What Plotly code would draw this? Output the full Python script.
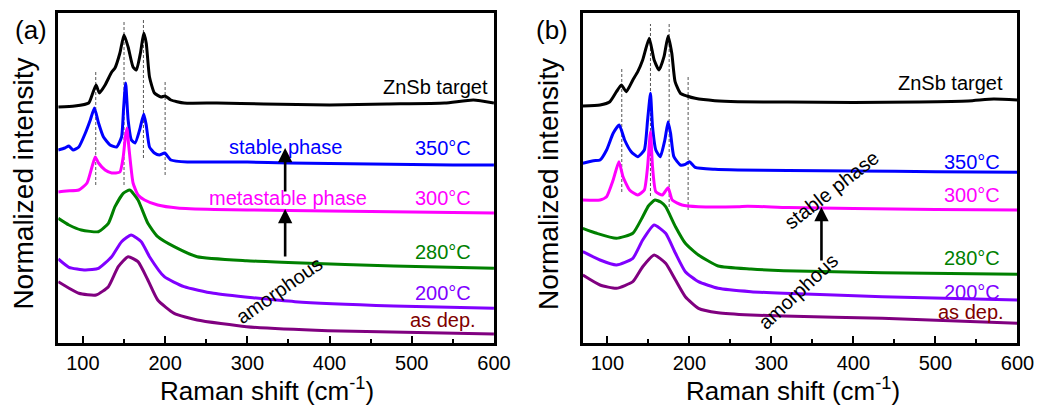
import plotly.graph_objects as go

FONT = "Liberation Sans, Arial, sans-serif"

# ---------------- Panel (a) spectra: Raman shift (cm^-1) vs stacked normalized intensity
a_target_x = [70, 90, 107, 112, 116, 120, 127, 135, 139, 145, 150, 155, 161, 165, 170, 174, 177, 181, 187, 195, 200, 207, 223, 263, 320, 400, 470, 540, 575, 600]
a_target_y = [236, 237, 240, 250, 258, 250, 258, 271, 275, 290, 308, 296, 276, 273, 290, 310, 300, 266, 250, 246, 247, 243, 240, 240, 239, 238, 239, 240, 243, 240]

a_350_x = [70, 78, 83, 88, 95, 103, 109, 114, 119, 125, 133, 141, 147, 149.5, 152, 155, 159, 163.5, 169, 174, 177, 181, 187, 193, 199.5, 207, 227, 263, 300, 350, 400, 450, 500, 550, 600]
a_350_y = [193, 195, 197, 193, 196, 210, 223, 235, 220, 206, 198, 196, 206, 235, 260, 223, 203, 200, 213, 229, 218, 196, 190, 188, 190, 183, 181, 181, 181, 180, 179.5, 179, 178.5, 178, 178]

a_300_x = [70, 80, 95, 105, 111, 115, 119, 127, 135, 145, 149, 151.5, 153.5, 156, 161, 167, 175, 191, 215, 260, 300, 400, 500, 600]
a_300_y = [151, 152, 153, 160, 176, 186, 180, 173, 170, 171, 186, 205, 215, 195, 160, 148, 143, 138, 135, 133.5, 133, 132, 131, 130]

a_280_x = [70, 83, 98, 119, 131, 139, 149, 157, 167, 179, 191, 211, 239, 299, 358, 478, 600]
a_280_y = [124.7, 118, 113, 111.3, 119.7, 136.3, 149.7, 153, 143, 119.7, 106.3, 96.3, 86.3, 82.3, 80.3, 77, 74.7]

a_200_x = [70, 83, 103, 119, 135, 147, 158.6, 171, 181, 199, 223, 259, 358, 478, 600]
a_200_y = [84, 75.7, 73, 74.7, 86.3, 101.3, 108, 101.3, 86.3, 66.3, 56.3, 49.7, 41.3, 37, 34.7]

a_dep_x = [70, 95, 116, 131, 143, 155, 167, 179, 191, 211, 239, 299, 398, 600]
a_dep_y = [61.3, 49.7, 48, 56.3, 76.3, 86.3, 81.3, 63, 43, 29.7, 23, 16.3, 12.3, 9]

# ---------------- Panel (b) spectra
b_target_x = [70, 91, 103, 111, 117, 123, 131, 137, 143, 151, 157, 163, 169, 174, 178.5, 182.5, 189, 197, 207, 231, 259, 320, 400, 480, 540, 571, 600]
b_target_y = [237, 238, 241.3, 251.3, 258, 251.3, 263, 271.3, 283, 304.7, 283, 273, 286.3, 307, 289.7, 261.3, 249.7, 247, 244.7, 242.3, 241.3, 241, 240.5, 241, 242, 244, 243]

b_350_x = [70, 83, 91, 99, 107, 114.4, 121, 129, 137, 145, 149, 152.5, 155, 159, 164.5, 170, 174, 177, 181, 189, 195, 200, 207, 231, 259, 320, 400, 500, 600]
b_350_y = [179.7, 182.3, 183, 193, 209.7, 218, 203, 191.3, 186.3, 193, 223, 249.7, 216.3, 193, 186.3, 203, 221.3, 209.7, 186.3, 178, 178.7, 181.3, 175.7, 173.7, 173, 172.5, 172, 171.3, 170.7]

b_300_x = [70, 91, 99, 107, 114, 119, 127, 137, 145, 149, 152.5, 155, 159, 167, 174, 179, 191, 211, 259, 271, 320, 400, 500, 600]
b_300_y = [143, 143, 146.3, 163, 181.3, 166.3, 153, 148, 153, 176.3, 211.3, 176.3, 151.3, 148, 155.3, 143, 138, 136.3, 136.3, 136.8, 135.5, 134.5, 133.5, 133]

b_280_x = [70, 87, 111, 131, 143, 150, 158, 165, 171, 183, 195, 211, 235, 275, 315, 435, 600]
b_280_y = [114.7, 109.7, 104.7, 109.7, 126.3, 137, 143, 141, 136.3, 116.3, 99.7, 88, 77, 74, 72.3, 70.3, 68.7]

b_200_x = [70, 91, 111, 131, 143, 157, 171, 183, 195, 211, 235, 275, 315, 435, 600]
b_200_y = [91.3, 83, 78, 84.7, 103, 118, 109.7, 89.7, 71.3, 61.3, 54.7, 51.3, 49.7, 46.3, 43]

b_dep_x = [70, 91, 111, 131, 143, 157, 171, 183, 195, 211, 235, 275, 315, 435, 600]
b_dep_y = [68, 58, 54.7, 61.3, 76.3, 88, 79.7, 63, 46.3, 34.7, 30.3, 28, 27, 24.7, 19.7]

# Reference peak positions (dashed guide lines) and their vertical extents
a_peak_pos = [115.6, 150, 173.6, 200]
a_peak_low = [158, 158, 185, 168]
a_peak_high = [272, 323, 323, 262]
b_peak_pos = [117.5, 152.5, 175.3, 198.4]
b_peak_low = [151, 147, 136, 133]
b_peak_high = [276, 319, 321, 266]

labels = ["ZnSb target", "350°C", "300°C", "280°C", "200°C", "as dep."]
line_colors = ["#000000", "#0000ff", "#ff00ff", "#008000", "#8000ff", "#800080"]
label_colors = ["#000000", "#0000ff", "#ff00ff", "#008000", "#8000ff", "#800000"]

a_curves = [(a_target_x, a_target_y), (a_350_x, a_350_y), (a_300_x, a_300_y),
            (a_280_x, a_280_y), (a_200_x, a_200_y), (a_dep_x, a_dep_y)]
b_curves = [(b_target_x, b_target_y), (b_350_x, b_350_y), (b_300_x, b_300_y),
            (b_280_x, b_280_y), (b_200_x, b_200_y), (b_dep_x, b_dep_y)]

# label anchor points (right end x, center y)
a_label_x = [595, 574, 574, 574, 574, 580]
a_label_y = [256, 195, 145, 91, 50, 23]
b_label_x = [585, 581, 581, 581, 581, 586]
b_label_y = [260, 181, 148, 85, 51, 31]

fig = go.Figure()

def add_panel(curves, peak_pos, peak_low, peak_high, xa, ya):
    for p, lo, hi in zip(peak_pos, peak_low, peak_high):
        fig.add_trace(go.Scatter(x=[p, p], y=[lo, hi], mode="lines",
                                 line=dict(color="#555555", width=1, dash="3px,2px"),
                                 showlegend=False, xaxis=xa, yaxis=ya, hoverinfo="skip"))
    for (cx, cy), col in zip(curves, line_colors):
        fig.add_trace(go.Scatter(x=cx, y=cy, mode="lines",
                                 line=dict(color=col, width=3, shape="spline", smoothing=0.5),
                                 showlegend=False, xaxis=xa, yaxis=ya))

add_panel(a_curves, a_peak_pos, a_peak_low, a_peak_high, "x", "y")
add_panel(b_curves, b_peak_pos, b_peak_low, b_peak_high, "x2", "y2")

ann = []
for xs, ys, xr, yr in [(a_label_x, a_label_y, "x", "y"), (b_label_x, b_label_y, "x2", "y2")]:
    for t, lx, ly, c in zip(labels, xs, ys, label_colors):
        ann.append(dict(x=lx, y=ly, xref=xr, yref=yr, text=t, showarrow=False,
                        xanchor="right", yanchor="middle", font=dict(family=FONT, size=20, color=c)))

# phase annotations
ann += [
    dict(x=346, y=196, xref="x", yref="y", text="stable phase", showarrow=False,
         font=dict(family=FONT, size=20, color="#0000ff")),
    dict(x=349, y=145, xref="x", yref="y", text="metastable phase", showarrow=False,
         font=dict(family=FONT, size=20, color="#ff00ff")),
    dict(x=339, y=53, xref="x", yref="y", text="amorphous", showarrow=False, textangle=-35,
         font=dict(family=FONT, size=20, color="#000000")),
    dict(x=373, y=153, xref="x2", yref="y2", text="stable phase", showarrow=False, textangle=-38,
         font=dict(family=FONT, size=20, color="#000000")),
    dict(x=333, y=52, xref="x2", yref="y2", text="amorphous", showarrow=False, textangle=-43,
         font=dict(family=FONT, size=20, color="#000000")),
]

# arrows
for xr, yr, x0, y0, y1 in [("x", "y", 346, 85, 134), ("x", "y", 346, 150, 195), ("x2", "y2", 361, 81, 136)]:
    ann.append(dict(x=x0, y=y1, ax=x0, ay=y0, xref=xr, yref=yr, axref=xr, ayref=yr,
                    text="", showarrow=True, arrowhead=2, arrowsize=1.1, arrowwidth=2.6,
                    arrowcolor="#000000"))

# panel letters and axis titles (pixel positions on the page)
W, H = 1062, 410
for t, px, py, rot, size in [("(a)", 31, 30, 0, 26), ("(b)", 561, 30, 0, 26),
                              ("Raman shift (cm<sup>-1</sup>)", 271, 389, 0, 26),
                              ("Raman shift (cm<sup>-1</sup>)", 806, 389, 0, 26),
                              ("Normalized intensity", 24, 184, -90, 28),
                              ("Normalized intensity", 558, 184, -90, 28)]:
    ann.append(dict(x=px / W, y=1 - py / H, xref="paper", yref="paper", text=t, showarrow=False,
                    textangle=rot, xanchor="center", yanchor="middle",
                    font=dict(family=FONT, size=size, color="#000000")))

xcommon = dict(range=[70, 600], tickvals=[100, 200, 300, 400, 500, 600], ticks="inside", ticklen=7,
               tickwidth=2, tickcolor="#000000", showline=True, mirror=True, linewidth=2.5,
               linecolor="#000000", showgrid=False, zeroline=False,
               tickfont=dict(family=FONT, size=20, color="#000000"),
               minor=dict(tickvals=[150, 250, 350, 450, 550], ticks="inside", ticklen=4, tickwidth=2,
                          tickcolor="#000000", showgrid=False))
ycommon = dict(range=[0, 330], showticklabels=False, ticks="", showline=True, mirror=True,
               linewidth=2.5, linecolor="#000000", showgrid=False, zeroline=False)

fig.update_layout(
    width=W, height=H, margin=dict(l=0, r=0, t=0, b=0),
    paper_bgcolor="white", plot_bgcolor="white",
    xaxis=dict(domain=[59.2 / W, 502 / W], anchor="y", **xcommon),
    yaxis=dict(domain=[67 / H, 397 / H], anchor="x", **ycommon),
    xaxis2=dict(domain=[592.3 / W, 1034 / W], anchor="y2", **xcommon),
    yaxis2=dict(domain=[67 / H, 397 / H], anchor="x2", **ycommon),
    annotations=ann,
)

fig.write_html(
    "out.html",
    config={"displayModeBar": False, "responsive": False},
    post_script=("document.documentElement.style.margin='0px';"
                 "document.body.style.margin='0px';"
                 "document.documentElement.style.overflow='hidden';"
                 "document.body.style.overflow='hidden';"),
)
